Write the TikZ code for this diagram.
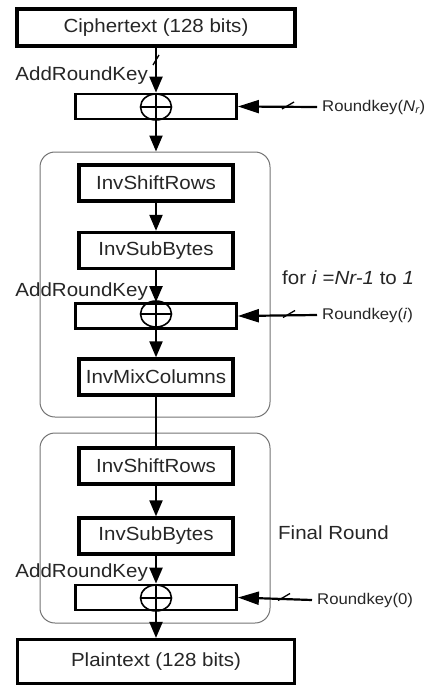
\documentclass[tikz,border=0pt]{standalone}
\usepackage{fontspec}
\setmainfont{Liberation Sans}[FakeStretch=1.08]
\usetikzlibrary{arrows.meta,shapes.geometric}

\begin{document}
\begin{tikzpicture}[x=1pt,y=-1pt,
  every node/.style={text=black!85},
  mainfont/.style={font=\fontsize{19}{20}\selectfont},
  keyfont/.style={font=\fontsize{15.5}{17}\selectfont},
  io/.style={draw, line width=3.2pt, minimum width=278pt, minimum height=37pt, inner sep=0pt, mainfont},
  stage/.style={draw, line width=3.4pt, minimum width=154pt, minimum height=36pt, inner sep=0pt, mainfont},
  ark/.style={draw, line width=2.8pt, minimum width=161pt, minimum height=25pt, inner sep=0pt},
  xorop/.style={draw, ellipse, line width=1.6pt, minimum width=31pt, minimum height=26pt, inner sep=0pt,
    path picture={\draw[line width=1.6pt] (path picture bounding box.west) -- (path picture bounding box.east);}},
  roundbox/.style={draw=black!55, line width=1pt, rounded corners=15pt, inner sep=0pt},
  flow/.style={line width=2.2pt, -{Triangle[length=16pt,width=13pt]}},
  keyflow/.style={line width=2.2pt, -{Triangle[length=21pt,width=13pt]}},
  slash/.style={line width=1.3pt},
  arklabel/.style={anchor=east, inner sep=0pt, mainfont},
  keylabel/.style={anchor=west, inner sep=5pt, keyfont},
  note/.style={anchor=west, inner sep=0pt, mainfont}]

\useasboundingbox (0,0) rectangle (432,690);

% round frames (drawn first, behind the stages)
\node[roundbox, minimum width=230pt, minimum height=265pt] (loop) at (155,284.5) {};
\node[roundbox, minimum width=230pt, minimum height=190pt] (final) at (155,528) {};

% input
\node[io] (ct) at (156,27.5) {Ciphertext (128 bits)};

% initial AddRoundKey
\node[ark] (ark1) at (156,106.5) {};
\node[xorop] (x1) at (156,107) {};
\node[arklabel] (al1) at (148,76) {AddRoundKey};
\node[keylabel] (rk1) at (317,107) {Roundkey(\textit{N}\textsubscript{\itshape r})};

% repeated round
\node[stage] (isr1) at (156,183) {InvShiftRows};
\node[stage] (isb1) at (156,250.5) {InvSubBytes};
\node[ark] (ark2) at (156,316) {};
\node[xorop] (x2) at (156,314) {};
\node[arklabel] (al2) at (148,292) {AddRoundKey};
\node[keylabel] (rk2) at (317,315) {Roundkey(\textit{i})};
\node[stage] (imc) at (156,377) {InvMixColumns};
\node[note] (forlbl) at (282,278) {for \textit{i} =\textit{Nr-1} to \textit{1}};

% final round
\node[stage] (isr2) at (156,466) {InvShiftRows};
\node[stage] (isb2) at (156,536) {InvSubBytes};
\node[ark] (ark3) at (156,597.5) {};
\node[xorop] (x3) at (156,598) {};
\node[arklabel] (al3) at (148,573) {AddRoundKey};
\node[keylabel] (rk3) at (312,600) {Roundkey(0)};
\node[note] (finlbl) at (278,533) {Final Round};

% output
\node[io, minimum width=277pt, minimum height=44pt] (pt) at (156,661.5) {Plaintext (128 bits)};

% data path
\draw[flow] (ct.south) -- (ark1.north);
\draw[flow] (ark1.north) -- (loop.north -| ark1.north);
\draw[flow] (isr1.south) -- (isb1.north);
\draw[flow] (isb1.south) -- (ark2.north);
\draw[flow] (ark2.north) -- (imc.north);
\draw[line width=1.5pt] (imc.south) -- (isr2.north);
\draw[flow] (isr2.south) -- (isb2.north);
\draw[flow] (isb2.south) -- (ark3.north);
\draw[flow] (ark3.north) -- (pt.north);

% round keys
\draw[keyflow] (rk1.west) -- (ark1.east);
\draw[keyflow] (rk2.west) -- (ark2.east);
\draw[keyflow] (rk3.west) -- (ark3.east);

% bus-width ticks
\coordinate (t0) at (156,60);
\coordinate (t1) at (288,105.5);
\coordinate (t2) at (289,314);
\coordinate (t3) at (284,597);
\draw[slash] ([shift={(-3,5)}]t0) -- ([shift={(3,-5)}]t0);
\foreach \t in {t1,t2,t3}
  \draw[slash] ([shift={(-6,3.5)}]\t) -- ([shift={(6,-3.5)}]\t);

\end{tikzpicture}
\end{document}
